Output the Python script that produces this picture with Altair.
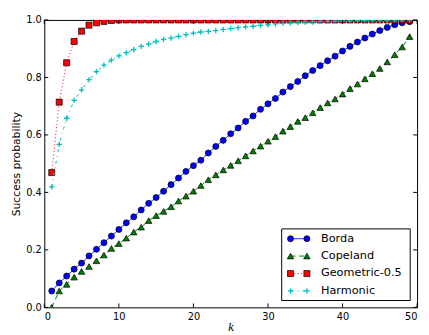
import altair as alt
import pandas as pd

# ---- data ----
k_values = list(range(1, 50))

borda = [0.057, 0.085, 0.109, 0.133, 0.154, 0.179, 0.202, 0.225, 0.248, 0.271,
         0.294, 0.315, 0.339, 0.362, 0.382, 0.404, 0.427, 0.450, 0.473, 0.493,
         0.512, 0.537, 0.560, 0.581, 0.604, 0.624, 0.647, 0.666, 0.689, 0.708,
         0.727, 0.749, 0.768, 0.786, 0.806, 0.824, 0.841, 0.858, 0.874, 0.892,
         0.908, 0.923, 0.937, 0.951, 0.963, 0.974, 0.983, 0.990, 0.994]

copeland = [0.000, 0.057, 0.080, 0.105, 0.125, 0.142, 0.162, 0.182, 0.205, 0.222,
            0.241, 0.262, 0.279, 0.302, 0.319, 0.334, 0.350, 0.370, 0.387, 0.404,
            0.424, 0.444, 0.461, 0.478, 0.494, 0.510, 0.527, 0.544, 0.561, 0.578,
            0.594, 0.613, 0.629, 0.647, 0.660, 0.677, 0.695, 0.711, 0.725, 0.742,
            0.761, 0.777, 0.795, 0.813, 0.831, 0.854, 0.879, 0.906, 0.942]

geometric = [0.469, 0.714, 0.851, 0.925, 0.961, 0.982, 0.990, 0.995, 0.998, 1.0,
             1.0, 1.0, 1.0, 1.0, 1.0, 1.0, 1.0, 1.0, 1.0, 1.0,
             1.0, 1.0, 1.0, 1.0, 1.0, 1.0, 1.0, 1.0, 1.0, 1.0,
             1.0, 1.0, 1.0, 1.0, 1.0, 1.0, 1.0, 1.0, 1.0, 1.0,
             1.0, 1.0, 1.0, 1.0, 1.0, 1.0, 1.0, 1.0, 1.0]

harmonic = [0.419, 0.567, 0.658, 0.720, 0.757, 0.792, 0.820, 0.843, 0.860, 0.875,
            0.886, 0.897, 0.908, 0.916, 0.925, 0.932, 0.937, 0.943, 0.949, 0.954,
            0.958, 0.960, 0.963, 0.967, 0.970, 0.973, 0.976, 0.978, 0.981, 0.983,
            0.986, 0.988, 0.989, 0.991, 0.992, 0.993, 0.994, 0.995, 0.996, 0.997,
            0.997, 0.998, 0.998, 0.999, 0.999, 0.999, 1.0, 1.0, 1.0]

series_names = ["Borda", "Copeland", "Geometric-0.5", "Harmonic"]
series_values = [borda, copeland, geometric, harmonic]

x_ticks = [0, 10, 20, 30, 40, 50]
y_ticks = [0.0, 0.2, 0.4, 0.6, 0.8, 1.0]

# ---- styles ----
W, H = 380, 293
PLUS = "M-1,0H1M0,-1V1"
styles = {
    "Borda": dict(color="#0000ff", dash=[1, 0], shape="circle", size=38,
                  fill="#0000ff", stroke="black", sw=0.7),
    "Copeland": dict(color="#007f00", dash=[5, 4], shape="triangle-up", size=44,
                     fill="#007f00", stroke="black", sw=0.7),
    "Geometric-0.5": dict(color="#ff0000", dash=[1, 2.5], shape="square", size=38,
                          fill="#ff0000", stroke="black", sw=0.7),
    "Harmonic": dict(color="#00bfbf", dash=[3, 4, 1, 4], shape=PLUS, size=30,
                     fill="transparent", stroke="#00bfbf", sw=1.3),
}

xs = alt.Scale(domain=[0, 50], nice=False, zero=False)
ys = alt.Scale(domain=[0, 1], nice=False, zero=False)

layers = []
first = True
for name, vals in zip(series_names, series_values):
    df = pd.DataFrame({"k": k_values, "p": vals})
    st = styles[name]
    if first:
        xenc = alt.X("k:Q", scale=xs, title="k",
                     axis=alt.Axis(values=x_ticks, tickSize=0, grid=False, domain=False,
                                   labelPadding=4, labelFontSize=10, labelColor="black",
                                   labelFont="DejaVu Sans", titleFont="DejaVu Serif",
                                   titleFontStyle="italic", titleFontWeight="normal",
                                   titleFontSize=11, titleColor="black", titlePadding=1))
        yenc = alt.Y("p:Q", scale=ys, title="Success probability",
                     axis=alt.Axis(values=y_ticks, format=".1f", tickSize=0, grid=False,
                                   domain=False, labelPadding=3, labelFontSize=10,
                                   labelColor="black", labelFont="DejaVu Sans",
                                   titleFont="DejaVu Sans", titleFontWeight="normal",
                                   titleFontSize=11, titleColor="black", titlePadding=4))
        first = False
    else:
        xenc = alt.X("k:Q", scale=xs)
        yenc = alt.Y("p:Q", scale=ys)
    line = alt.Chart(df).mark_line(color=st["color"], strokeWidth=1,
                                   strokeDash=st["dash"], clip=True).encode(x=xenc, y=yenc)
    pts = alt.Chart(df).mark_point(shape=st["shape"], size=st["size"], filled=False,
                                   fill=st["fill"], stroke=st["stroke"],
                                   strokeWidth=st["sw"], opacity=1, clip=True).encode(
        x=alt.X("k:Q", scale=xs), y=alt.Y("p:Q", scale=ys))
    layers += [line, pts]

# inward ticks on all four sides
xt = pd.DataFrame({"t": x_ticks})
yt = pd.DataFrame({"t": y_ticks})
TL = 4
tick_layers = [
    alt.Chart(xt).mark_rule(color="black", strokeWidth=1).encode(
        x=alt.X("t:Q", scale=xs), y=alt.value(H), y2=alt.value(H - TL)),
    alt.Chart(xt).mark_rule(color="black", strokeWidth=1).encode(
        x=alt.X("t:Q", scale=xs), y=alt.value(0), y2=alt.value(TL)),
    alt.Chart(yt).mark_rule(color="black", strokeWidth=1).encode(
        y=alt.Y("t:Q", scale=ys), x=alt.value(0), x2=alt.value(TL)),
    alt.Chart(yt).mark_rule(color="black", strokeWidth=1).encode(
        y=alt.Y("t:Q", scale=ys), x=alt.value(W), x2=alt.value(W - TL)),
]

# manual legend (matplotlib style)
LX0, LX1, LY0, LY1 = 242, 373, 213, 286
row_y = [223, 240.7, 258.5, 276.3]
m1, m2, tx = 251, 267.7, 282
leg_layers = [alt.Chart(pd.DataFrame({"a": [0]})).mark_rect(
    fill="white", stroke="black", strokeWidth=1).encode(
    x=alt.value(LX0), x2=alt.value(LX1), y=alt.value(LY0), y2=alt.value(LY1))]
for name, ry in zip(series_names, row_y):
    st = styles[name]
    d1 = pd.DataFrame({"label": [name]})
    leg_layers.append(alt.Chart(d1).mark_rule(
        color=st["color"], strokeWidth=1, strokeDash=st["dash"]).encode(
        x=alt.value(m1), x2=alt.value(m2), y=alt.value(ry)))
    for mx in (m1, m2):
        leg_layers.append(alt.Chart(d1).mark_point(
            shape=st["shape"], size=st["size"], filled=False, fill=st["fill"],
            stroke=st["stroke"], strokeWidth=st["sw"], opacity=1).encode(
            x=alt.value(mx), y=alt.value(ry)))
    leg_layers.append(alt.Chart(d1).mark_text(
        align="left", baseline="middle", fontSize=11.5, font="DejaVu Sans",
        color="black").encode(x=alt.value(tx), y=alt.value(ry), text="label:N"))

chart = alt.layer(*layers, *tick_layers, *leg_layers).properties(
    width=W, height=H,
    padding={"left": 37, "top": 9, "right": 4, "bottom": 25},
    autosize=alt.AutoSizeParams(type="none"),
    background="white",
).configure_view(stroke="black", strokeWidth=1)

chart.save("out.html", embed_options={"renderer": "svg", "actions": False})
